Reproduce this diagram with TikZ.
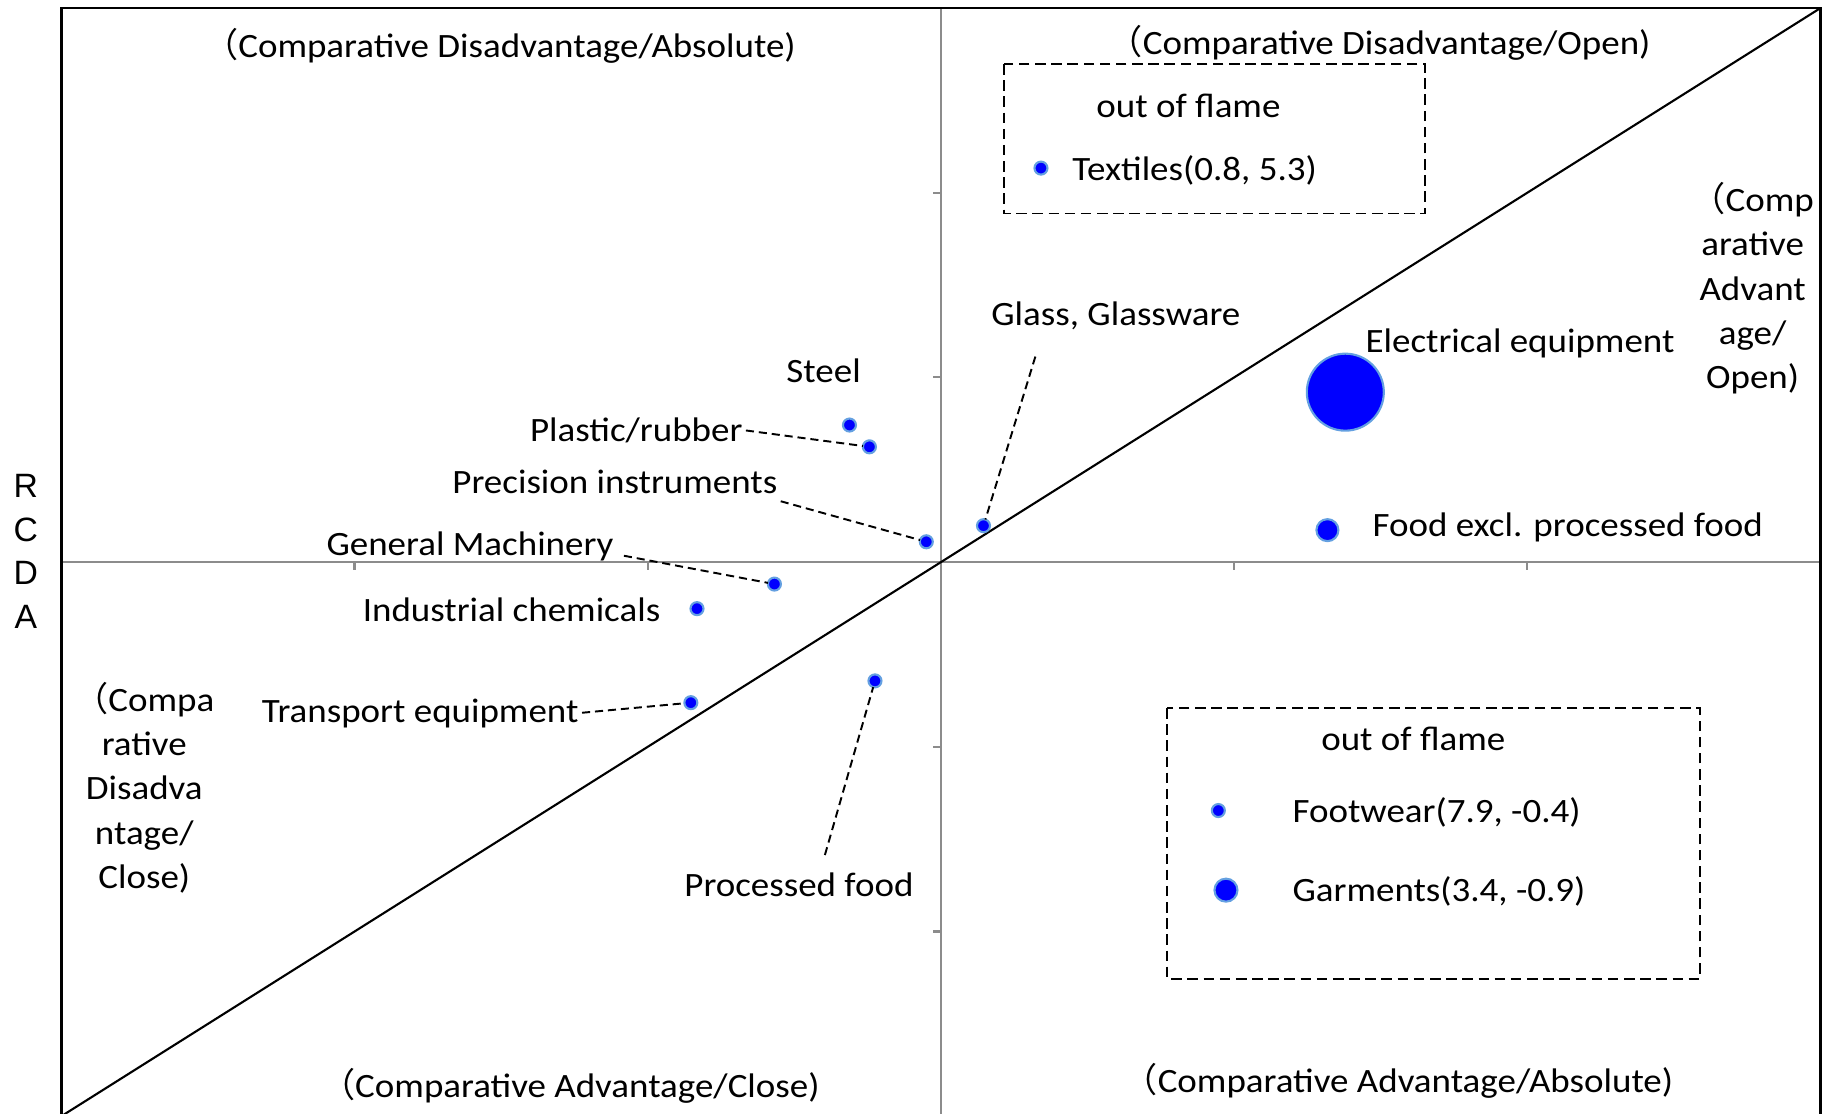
\documentclass[tikz,border=0pt]{standalone}
\usepackage{fontspec}
\setmainfont{Carlito}[FakeStretch=1.085]
\newfontfamily\cjkfont{Noto Sans CJK SC}
\newfontfamily\arialfont{Liberation Sans}
\usetikzlibrary{positioning}
\newcommand{\fwparen}{{\cjkfont （}}
\definecolor{dotblue}{RGB}{0,0,255}
\definecolor{dotring}{RGB}{100,160,225}
\definecolor{axisgray}{RGB}{140,140,140}

\begin{document}
\begin{tikzpicture}[x=2.932cm, y=1.847cm,
    every node/.style={font=\fontsize{9.7pt}{12.6pt}\selectfont, inner sep=0pt, outer sep=0pt},
    bubble/.style={circle, fill=dotblue, draw=dotring, line width=0.6pt, minimum size=0.13cm},
    leader/.style={black, line width=0.55pt, dash pattern=on 2.3pt off 1.4pt, shorten <=1pt},
    dashbox/.style={black, line width=0.5pt, dash pattern=on 3pt off 1.6pt},
    axisline/.style={axisgray, line width=0.6pt}]
			\useasboundingbox (-3.209,-2.983) rectangle (3.049,3.043);

			% Draw the axes and the ticks
			\draw[axisline] (-3,0) -- (3,0);
			\draw[axisline] (0,-3) -- (0,3);
			\foreach \t in {-2,-1,1,2} {
				\draw[axisline] (\t,0) -- (\t,-0.043);
				\draw[axisline] (0,\t) -- (-0.027,\t);
			}

			% Draw the frame and the diagonal
			\draw[black, line width=0.75pt] (-3,-3) rectangle (3,3);
			\draw[black, line width=0.6pt] (-3,-3) -- (3,3);

			\node[font=\arialfont\fontsize{9.6pt}{12.4pt}\selectfont, align=center] (RCDA) at (-3.121, 0.057) {R\\C\\D\\A};

			% Quadrant titles
			\node[anchor=base] (TopLeft) at (-1.504, 2.734) {\fwparen Comparative Disadvantage/Absolute)};
			\node[anchor=base] (TopRight) at (1.496, 2.750) {\fwparen Comparative Disadvantage/Open)};
			\node[anchor=base] (BottomLeft) at (-1.264, -2.899) {\fwparen Comparative Advantage/Close)};
			\node[anchor=base] (BottomRight) at (1.560, -2.870) {\fwparen Comparative Advantage/Absolute)};
			\node[align=center] (RightSide) at (2.768, 1.483) {\fwparen Comp\\arative\\Advant\\age/\\Open)};
			\node[align=center] (LeftSide) at (-2.717, -1.221) {\fwparen Compa\\rative\\Disadva\\ntage/\\Close)};

			% Draw the boxes for the points out of the frame
			\draw[dashbox] (0.215,2.696) rectangle (1.651,1.887);
			\draw[dashbox] (0.771,-0.790) rectangle (2.588,-2.255);

			\node[anchor=base] (OutTop) at (0.844, 2.409) {out of flame};
			\node[bubble] (textiles) at (0.341, 2.133) {};
			\node[anchor=base west] (textileslbl) at (0.4485, 2.068) {Textiles(0.8, 5.3)};

			\node[anchor=base] (OutBottom) at (1.611, -1.018) {out of flame};
			\node[bubble] (footwear) at (0.946, -1.345) {};
			\node[anchor=base west] (footwearlbl) at (1.199, -1.408) {Footwear(7.9, -0.4)};
			\node[bubble, minimum size=0.23cm] (garments) at (0.972, -1.776) {};
			\node[anchor=base west] (garmentslbl) at (1.199, -1.835) {Garments(3.4, -0.9)};

			% Draw the points
			\node[bubble] (steel) at (-0.312, 0.742) {};
			\node[bubble] (plastic) at (-0.244, 0.624) {};
			\node[bubble] (precision) at (-0.050, 0.110) {};
			\node[bubble] (glass) at (0.145, 0.197) {};
			\node[bubble] (genmach) at (-0.568, -0.119) {};
			\node[bubble] (indchem) at (-0.832, -0.252) {};
			\node[bubble] (transport) at (-0.853, -0.761) {};
			\node[bubble] (procfood) at (-0.225, -0.643) {};
			\node[bubble, minimum size=0.77cm] (electrical) at (1.379, 0.920) {};
			\node[bubble, minimum size=0.22cm] (foodexcl) at (1.318, 0.173) {};

			% Labels of the points
			\node[anchor=base west] (steellbl) at (-0.527, 0.975) {Steel};
			\node[anchor=base east] (plasticlbl) at (-0.677, 0.655) {Plastic/rubber};
			\node[anchor=base east] (precisionlbl) at (-0.558, 0.374) {Precision instruments};
			\node[anchor=base east] (genmachlbl) at (-1.117, 0.038) {General Machinery};
			\node[anchor=base east] (indchemlbl) at (-0.957, -0.319) {Industrial chemicals};
			\node[anchor=base east] (transportlbl) at (-1.236, -0.866) {Transport equipment};
			\node[anchor=base west] (procfoodlbl) at (-0.875, -1.808) {Processed food};
			\node[anchor=base west] (glasslbl) at (0.172, 1.279) {Glass, Glassware};
			\node[anchor=base west] (electricallbl) at (1.448, 1.137) {Electrical equipment};
			\node[anchor=base west] (foodexcllbl) at (1.472, 0.137) {Food excl. processed food};

			% Draw the leader lines
			\draw[leader] (plasticlbl.east) -- (plastic);
			\draw[leader] ([yshift=-2pt]precisionlbl.south east) -- (precision);
			\draw[leader] ([xshift=2pt]genmachlbl.base east) -- (genmach);
			\draw[leader] (transportlbl.east) -- (transport);
			\draw[leader] ([xshift=0.25cm,yshift=0.14cm]procfoodlbl.north) -- (procfood);
			\draw[leader] ([xshift=0.45cm,yshift=-0.23cm]glasslbl.south west) -- (glass);

		\end{tikzpicture}
\end{document}
